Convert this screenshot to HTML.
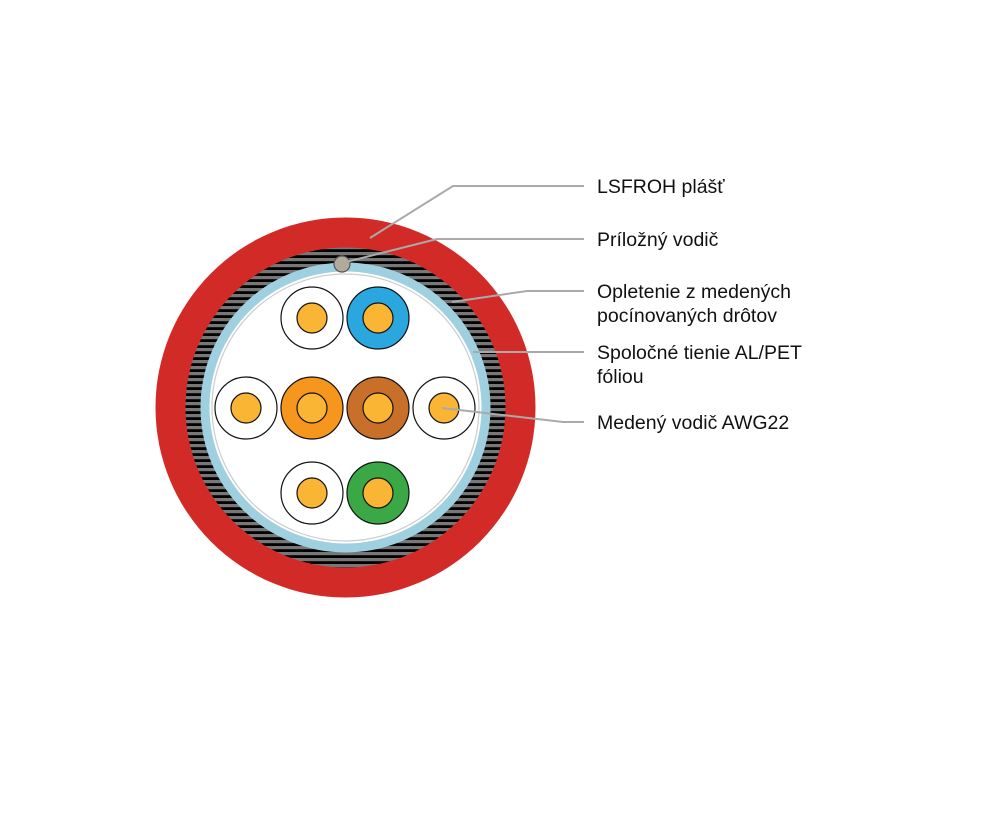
<!DOCTYPE html>
<html><head><style>body{margin:0;background:#fff}svg{display:block}</style></head><body>
<svg width="1000" height="836" viewBox="0 0 1000 836" xmlns="http://www.w3.org/2000/svg">
<defs>
<pattern id="br" patternUnits="userSpaceOnUse" width="10" height="6">
<rect width="10" height="6" fill="#000"/>
<rect y="0" width="10" height="3.2" fill="#777"/>
</pattern>
</defs>
<circle cx="345.5" cy="407.5" r="190" fill="#d22b27"/>
<circle cx="345.5" cy="407.5" r="160" fill="url(#br)"/>
<circle cx="345.5" cy="407.5" r="145" fill="#9fd0e0"/>
<circle cx="345.5" cy="407.5" r="136" fill="#fff"/>
<circle cx="345.5" cy="407.5" r="133.5" fill="none" stroke="#ccc" stroke-width="1.2"/>
<g stroke="#111" stroke-width="1.2">
<circle cx="312" cy="318" r="31" fill="#fff"/><circle cx="312" cy="318" r="15" fill="#fbb534"/>
<circle cx="378" cy="318" r="31" fill="#2aa7df"/><circle cx="378" cy="318" r="15" fill="#fbb534"/>
<circle cx="246" cy="408" r="31" fill="#fff"/><circle cx="246" cy="408" r="15" fill="#fbb534"/>
<circle cx="312" cy="408" r="31" fill="#f7961d"/><circle cx="312" cy="408" r="15" fill="#fbb534"/>
<circle cx="378" cy="408" r="31" fill="#c8702a"/><circle cx="378" cy="408" r="15" fill="#fbb534"/>
<circle cx="444" cy="408" r="31" fill="#fff"/><circle cx="444" cy="408" r="15" fill="#fbb534"/>
<circle cx="312" cy="493" r="31" fill="#fff"/><circle cx="312" cy="493" r="15" fill="#fbb534"/>
<circle cx="378" cy="493" r="31" fill="#3aa845"/><circle cx="378" cy="493" r="15" fill="#fbb534"/>
<circle cx="342" cy="264" r="8" fill="#b2aa9b" stroke="#555"/>
</g>
<g fill="none" stroke="#aaa" stroke-width="2">
<polyline points="370,238 453,186 584,186"/>
<polyline points="346,262 437,239 584,239"/>
<polyline points="452,302 527,291 584,291"/>
<polyline points="473,352 584,352"/>
<polyline points="442,408 563,422 584,422"/>
</g>
<g font-family="Liberation Sans, sans-serif" font-size="19.5" fill="#111">
<text x="597" y="193">LSFROH plášť</text>
<text x="597" y="246">Príložný vodič</text>
<text x="597" y="298">Opletenie z medených</text>
<text x="597" y="322">pocínovaných drôtov</text>
<text x="597" y="359">Spoločné tienie AL/PET</text>
<text x="597" y="383">fóliou</text>
<text x="597" y="429">Medený vodič AWG22</text>
</g>
</svg>
</body></html>
